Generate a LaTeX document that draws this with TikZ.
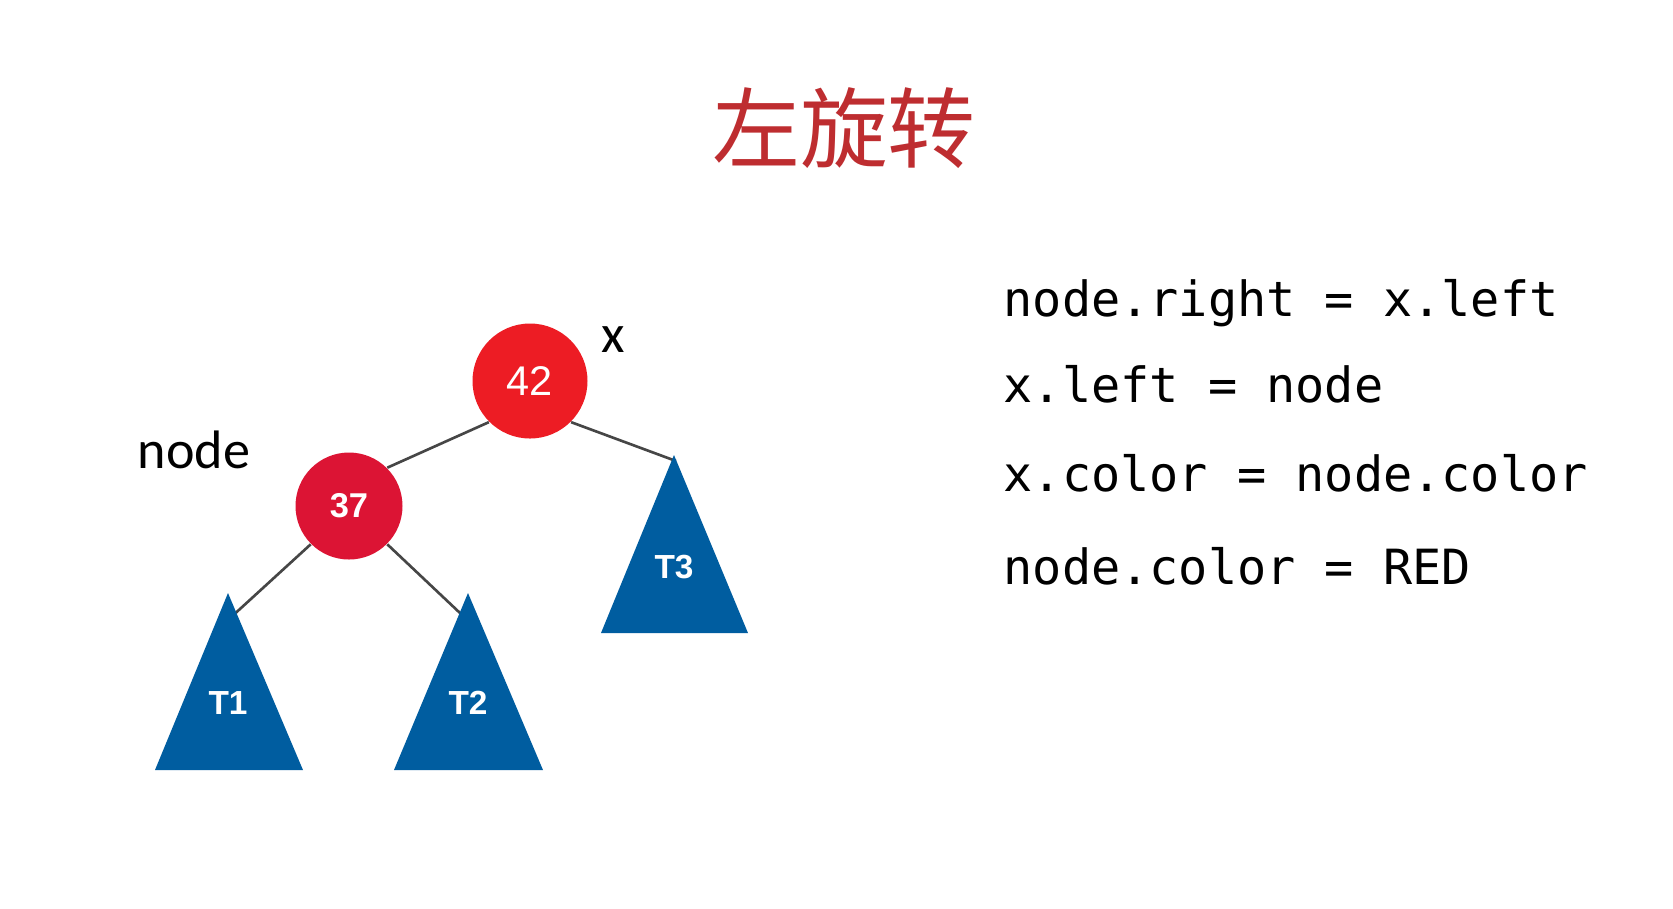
\documentclass[tikz,border=0pt]{standalone}
\usepackage{fontspec}
\setmainfont{Liberation Sans}
\newfontfamily\cjkfont{Noto Sans CJK SC}
\newfontfamily\labelfont{Carlito}
\newfontfamily\codefont{DejaVu Sans Mono}

\definecolor{titlered}{RGB}{190,45,48}
\definecolor{xred}{RGB}{237,28,36}
\definecolor{nodered}{RGB}{220,20,52}
\definecolor{treeblue}{RGB}{0,93,160}
\definecolor{edgegray}{RGB}{70,70,70}

\tikzset{
  rednode/.style={circle, fill=#1, text=white, inner sep=0pt},
  subtree/.style={fill=treeblue},
  treelabel/.style={text=white, font=\bfseries\fontsize{9.5}{11}\selectfont},
  edge/.style={draw=edgegray, line width=0.75pt},
  codeline/.style={anchor=base west, inner sep=0pt, font=\codefont\fontsize{13.8}{16}\selectfont},
  namelabel/.style={anchor=base west, inner sep=0pt, font=\labelfont\fontsize{15.4}{18}\selectfont}
}

\begin{document}
\begin{tikzpicture}

\fill[white] (0,0) rectangle (16.73,-9.08);
\useasboundingbox (0,0) rectangle (16.73,-9.08);

\node[text=titlered, font=\cjkfont\fontsize{25}{30}\selectfont] (title) at (8.44,-1.28) {左旋转};

% tree
\node[rednode=xred, minimum size=1.15cm, font=\fontsize{11.8}{14}\selectfont] (x) at (5.30,-3.81) {42};
\node[rednode=nodered, minimum size=1.07cm, font=\bfseries\fontsize{9.8}{12}\selectfont] (nd) at (3.49,-5.06) {37};

\node[namelabel] (xname) at (6.01,-3.52) {x};
\node[namelabel] (ndname) at (1.37,-4.68) {node};

\coordinate (t1in) at (2.17,-6.30);
\coordinate (t2in) at (4.78,-6.30);
\coordinate (t3in) at (6.76,-4.61);

\draw[edge] (x.south west) -- (nd.north east);
\draw[edge] (x.south east) -- (t3in);
\draw[edge] (nd.south west) -- (t1in);
\draw[edge] (nd.south east) -- (t2in);

\fill[subtree] (2.28,-5.93) -- (3.03,-7.70) -- (1.55,-7.70) -- cycle;
\fill[subtree] (4.68,-5.93) -- (5.43,-7.70) -- (3.94,-7.70) -- cycle;
\fill[subtree] (6.74,-4.55) -- (7.48,-6.33) -- (6.01,-6.33) -- cycle;

\node[treelabel] (t1) at (2.28,-7.03) {T1};
\node[treelabel] (t2) at (4.68,-7.03) {T2};
\node[treelabel] (t3) at (6.74,-5.67) {T3};

% code
\node[codeline] (code1) at (10.03,-3.16) {node.right = x.left};
\node[codeline] (code2) at (10.03,-4.02) {x.left = node};
\node[codeline] (code3) at (10.03,-4.91) {x.color = node.color};
\node[codeline] (code4) at (10.03,-5.84) {node.color = RED};

\end{tikzpicture}
\end{document}
